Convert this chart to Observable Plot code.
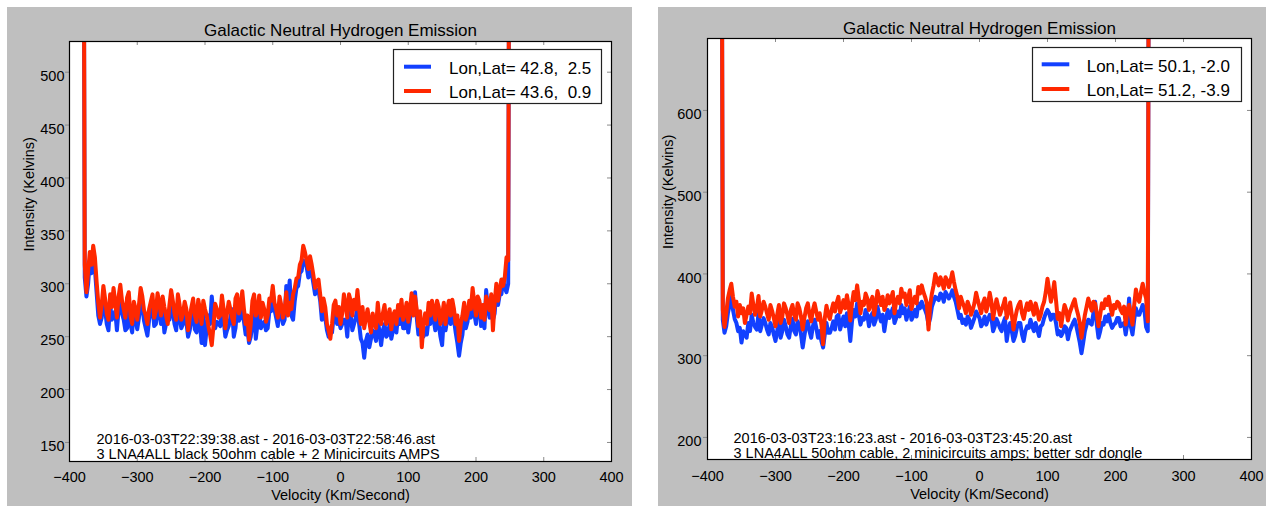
<!DOCTYPE html>
<html><head><meta charset="utf-8">
<script src="https://cdn.jsdelivr.net/npm/d3@7"></script>
<script src="https://cdn.jsdelivr.net/npm/@observablehq/plot@0.6"></script>
<style>
html,body{margin:0;padding:0;background:#fff;}
#root{position:relative;width:1266px;height:506px;overflow:hidden;font-family:"Liberation Sans",Arial,sans-serif;}
.panel{position:absolute;background:#bfbfbf;overflow:hidden;}
.panel svg{position:absolute;left:0;top:0;}
</style></head><body><div id="root"></div>
<script>
// ---------- data ----------
// spectrometer channels (km/s): main channels and the channels half-way between them
const velocity = [-380,-375,-370,-365,-360,-355,-350,-345,-340,-335,-330,-325,-320,-315,-310,-305,-300,-295,-290,-285,-280,-275,-270,-265,-260,-255,-250,-245,-240,-235,-230,-225,-220,-215,-210,-205,-200,-195,-190,-185,-180,-175,-170,-165,-160,-155,-150,-145,-140,-135,-130,-125,-120,-115,-110,-105,-100,-95,-90,-85,-80,-75,-70,-65,-60,-55,-50,-45,-40,-35,-30,-25,-20,-15,-10,-5,0,5,10,15,20,25,30,35,40,45,50,55,60,65,70,75,80,85,90,95,100,105,110,115,120,125,130,135,140,145,150,155,160,165,170,175,180,185,190,195,200,205,210,215,220,225,230,235,240,245,250];
const velocityMid = [-377.5,-372.5,-367.5,-362.5,-357.5,-352.5,-347.5,-342.5,-337.5,-332.5,-327.5,-322.5,-317.5,-312.5,-307.5,-302.5,-297.5,-292.5,-287.5,-282.5,-277.5,-272.5,-267.5,-262.5,-257.5,-252.5,-247.5,-242.5,-237.5,-232.5,-227.5,-222.5,-217.5,-212.5,-207.5,-202.5,-197.5,-192.5,-187.5,-182.5,-177.5,-172.5,-167.5,-162.5,-157.5,-152.5,-147.5,-142.5,-137.5,-132.5,-127.5,-122.5,-117.5,-112.5,-107.5,-102.5,-97.5,-92.5,-87.5,-82.5,-77.5,-72.5,-67.5,-62.5,-57.5,-52.5,-47.5,-42.5,-37.5,-32.5,-27.5,-22.5,-17.5,-12.5,-7.5,-2.5,2.5,7.5,12.5,17.5,22.5,27.5,32.5,37.5,42.5,47.5,52.5,57.5,62.5,67.5,72.5,77.5,82.5,87.5,92.5,97.5,102.5,107.5,112.5,117.5,122.5,127.5,132.5,137.5,142.5,147.5,152.5,157.5,162.5,167.5,172.5,177.5,182.5,187.5,192.5,197.5,202.5,207.5,212.5,217.5,222.5,227.5,232.5,237.5,242.5,247.5];

// left chart (Lon,Lat 42.8,2.5 = blue; 43.6,0.9 = red)
const leftRed = [900,292,330,336,302,268,298,272,290,296,268,299,276,287,270,283,266,296,275,262,283,268,291,270,278,262,294,272,290,266,283,256,278,270,285,262,276,260,242,281,268,289,258,283,268,286,272,293,262,247,284,270,289,282,264,286,298,276,288,268,292,282,290,305,318,336,322,326,308,302,290,286,262,248,280,270,262,290,268,284,285,294,262,258,276,254,262,282,262,280,268,257,274,280,285,272,264,291,288,260,240,272,282,284,266,278,270,262,284,285,262,246,270,266,284,296,270,284,280,288,275,256,300,294,298,325,900];
const leftRedMid = [318,312,318,325,282,280,286,266,278,282,288,284,268,292,262,276,280,288,270,276,290,274,282,288,270,280,284,266,280,272,276,268,286,264,276,284,270,252,260,276,270,276,272,276,262,290,278,276,270,262,290,274,268,276,270,284,282,268,280,274,270,276,296,306,322,330,314,318,296,304,274,278,256,262,284,278,272,280,290,270,276,276,278,268,264,272,258,266,272,262,276,270,262,270,266,282,276,270,276,274,262,262,270,276,284,262,282,276,270,276,270,262,282,272,276,282,288,268,266,280,290,282,284,304,306,322];
const leftBlue = [900,288,322,328,292,262,290,262,281,270,256,288,266,258,262,276,257,284,265,251,274,260,282,262,254,270,278,262,280,258,274,250,268,257,276,244,242,270,288,258,262,275,250,260,276,258,265,282,252,244,262,248,276,262,256,274,292,268,282,262,298,303,266,296,310,322,316,312,300,294,284,278,256,258,270,262,258,266,250,270,262,278,248,230,252,248,252,268,242,262,252,248,262,270,276,258,254,282,292,252,262,258,266,276,256,262,242,256,274,276,254,232,252,258,278,286,262,282,272,294,268,266,292,290,304,292,900];
const leftBlueMid = [306,300,310,314,270,268,276,256,266,274,276,272,256,280,254,266,268,278,258,266,280,262,272,276,262,266,274,256,268,262,264,256,274,254,262,272,258,262,270,264,260,266,256,268,250,276,268,264,258,250,276,262,258,264,258,274,276,260,270,266,284,270,284,298,312,320,306,310,290,294,266,268,250,254,274,266,262,266,276,256,268,262,244,246,240,256,246,254,256,250,262,256,254,262,258,270,266,276,268,258,250,252,262,266,270,250,268,266,262,266,244,244,270,264,268,272,278,260,258,276,280,272,280,290,296,300];

// right chart (Lon,Lat 50.1,-2.0 = blue; 51.2,-3.9 = red)
const rightRed = [1200,335,370,388,360,348,352,340,360,376,350,373,356,360,344,355,336,362,348,358,340,362,344,358,332,358,350,356,354,352,314,361,345,364,365,353,368,374,343,378,386,352,362,370,366,350,379,362,356,374,370,352,372,382,376,370,357,372,384,386,372,332,376,400,386,390,396,384,402,380,358,365,352,360,356,377,360,364,354,377,345,369,350,362,346,365,332,356,366,345,364,366,350,356,350,366,394,366,390,345,336,362,343,358,369,350,322,350,370,355,364,336,364,369,372,350,358,364,352,338,362,338,381,366,388,370,1200];
const rightRedMid = [356,352,380,372,366,362,358,350,352,362,358,348,366,352,362,346,350,340,364,350,356,350,364,348,346,364,342,364,344,338,346,350,356,354,372,360,358,362,364,368,370,366,376,356,372,362,370,372,362,364,378,366,364,372,362,380,366,364,376,378,364,362,386,392,396,382,392,392,390,372,372,360,366,350,364,368,352,370,362,366,358,360,356,370,354,350,346,362,352,356,356,358,364,344,360,378,380,376,368,352,350,356,352,364,358,340,336,360,362,366,352,350,358,362,360,362,366,356,360,356,350,362,370,378,378,342];
const rightBlue = [1200,328,352,372,345,330,316,326,340,350,335,352,338,340,326,335,318,342,330,336,322,345,326,338,310,338,330,336,334,330,310,340,328,342,348,332,348,352,318,356,364,338,344,350,348,338,360,342,330,356,352,340,354,362,358,352,344,356,364,366,356,338,360,372,368,374,378,370,380,366,346,340,338,344,340,354,346,340,338,350,330,345,334,340,318,340,318,334,340,318,336,344,330,332,336,346,356,344,350,326,324,336,320,335,344,326,303,330,344,338,366,322,340,348,350,334,340,346,338,326,370,326,358,350,362,335,1200];
const rightBlueMid = [344,336,362,356,340,334,330,322,330,340,332,330,346,332,340,326,330,322,344,326,336,330,342,326,324,342,322,344,322,318,326,328,334,332,350,340,336,340,342,348,350,346,356,336,352,344,350,350,344,346,358,346,348,352,344,360,348,348,358,360,350,346,366,370,376,366,374,374,372,356,350,344,348,334,346,350,336,348,344,346,336,340,330,346,332,330,324,340,326,330,334,336,340,324,338,352,352,350,340,330,328,334,330,340,336,316,316,338,340,352,338,330,338,342,340,338,346,336,340,340,336,344,350,356,356,330];

const xTicks = [-400,-300,-200,-100,0,100,200,300,400];
const leftYTicks = [150,200,250,300,350,400,450,500];
const rightYTicks = [200,300,400,500,600];

const titleText = "Galactic Neutral Hydrogen Emission";
const xLabelText = "Velocity (Km/Second)";
const yLabelText = "Intensity (Kelvins)";
const leftNotes = ["2016-03-03T22:39:38.ast - 2016-03-03T22:58:46.ast", "3 LNA4ALL black 50ohm cable + 2 Minicircuits AMPS"];
const rightNotes = ["2016-03-03T23:16:23.ast - 2016-03-03T23:45:20.ast", "3 LNA4ALL 50ohm cable, 2 minicircuits amps; better sdr dongle"];
const leftLegend = ["Lon,Lat= 42.8,  2.5", "Lon,Lat= 43.6,  0.9"];
const rightLegend = ["Lon,Lat= 50.1, -2.0", "Lon,Lat= 51.2, -3.9"];
const seriesColors = ["#1240ff", "#ff2800"];

// ---------- drawing ----------
const FONT = '"Liberation Sans", Arial, sans-serif';
const root = document.getElementById("root");

function series(main, mid) {
  return velocity.map((v, i) => ({v, T: main[i]}))
    .concat(velocityMid.map((v, i) => ({v, T: mid[i]})))
    .sort((a, b) => a.v - b.v);
}

function drawPanel(cfg) {
  const div = document.createElement("div");
  div.className = "panel";
  Object.assign(div.style, {left: cfg.left + "px", top: cfg.top + "px", width: cfg.width + "px", height: cfg.height + "px"});
  root.appendChild(div);

  const blueRows = series(cfg.blue, cfg.blueMid);
  const redRows = series(cfg.red, cfg.redMid);
  const W = cfg.width - cfg.m[1] - cfg.m[3];
  const H = cfg.height - cfg.m[0] - cfg.m[2];
  const tickColor = "#8a8a8a";

  const svg = Plot.plot({
    width: cfg.width, height: cfg.height,
    marginTop: cfg.m[0], marginRight: cfg.m[1], marginBottom: cfg.m[2], marginLeft: cfg.m[3],
    style: {background: "transparent", fontFamily: FONT, color: "black", overflow: "visible"},
    x: {domain: [-400, 400]},
    y: {domain: cfg.yDomain},
    marks: [
      Plot.frame({fill: "white", stroke: null}),
      Plot.line(blueRows, {x: "v", y: "T", stroke: seriesColors[0], strokeWidth: 4, strokeLinejoin: "round", clip: true}),
      Plot.line(redRows, {x: "v", y: "T", stroke: seriesColors[1], strokeWidth: 4, strokeLinejoin: "round", clip: true}),
      Plot.ruleX(xTicks, {x: d => d, insetTop: H - 4, stroke: tickColor}),
      Plot.ruleX(xTicks, {x: d => d, insetBottom: H - 4, stroke: tickColor}),
      Plot.ruleY(cfg.yTicks, {y: d => d, insetLeft: W - 4, stroke: tickColor}),
      Plot.ruleY(cfg.yTicks, {y: d => d, insetRight: W - 4, dx: -4, stroke: tickColor}),
      Plot.axisX(xTicks, {tickSize: 0, tickPadding: cfg.xPad, fontSize: 14.5, label: null}),
      Plot.axisY(cfg.yTicks, {tickSize: 0, tickPadding: cfg.yPad, dy: 4, fontSize: 14.5, label: null}),
      Plot.frame({stroke: "black", strokeWidth: 1.2}),
      Plot.text([titleText], {frameAnchor: "top", lineAnchor: "bottom", dy: cfg.titleDy, fontSize: 17}),
      Plot.text([xLabelText], {frameAnchor: "bottom", lineAnchor: "bottom", dy: cfg.xLabelDy, fontSize: 14.5}),
      Plot.text([yLabelText], {frameAnchor: "left", rotate: -90, lineAnchor: "bottom", dx: cfg.yLabelDx, fontSize: 14.5}),
      Plot.text([cfg.notes.join("\n")], {frameAnchor: "bottom-left", textAnchor: "start", lineAnchor: "bottom", dx: cfg.noteDx, dy: cfg.noteDy, lineHeight: 0.97, fontSize: 14.5})
    ]
  });
  div.appendChild(svg);

  // legend box
  const lg = cfg.legend;
  const leg = d3.create("svg")
    .attr("width", lg.w).attr("height", lg.h)
    .style("position", "absolute")
    .style("left", (lg.x - cfg.left) + "px").style("top", (lg.y - cfg.top) + "px")
    .style("overflow", "visible");
  leg.append("rect").attr("x", 0.5).attr("y", 0.5).attr("width", lg.w - 1).attr("height", lg.h - 1)
    .attr("fill", "white").attr("stroke", "#222").attr("stroke-width", 1.2);
  cfg.legendLabels.forEach((label, i) => {
    const yy = lg.rowY[i];
    leg.append("line").attr("x1", lg.sx).attr("x2", lg.sx + lg.sw).attr("y1", yy).attr("y2", yy)
      .attr("stroke", seriesColors[i]).attr("stroke-width", 4);
    leg.append("text").attr("x", lg.tx).attr("y", yy + 7.3)
      .attr("font-family", FONT).attr("font-size", 17).attr("fill", "black")
      .style("white-space", "pre").attr("xml:space", "preserve").text(label);
  });
  div.appendChild(leg.node());
}

drawPanel({
  left: 7, top: 7, width: 625, height: 499,
  m: [34, 21, 45, 62],
  yDomain: [132, 529], yTicks: leftYTicks,
  blue: leftBlue, blueMid: leftBlueMid, red: leftRed, redMid: leftRedMid,
  xPad: 10, yPad: 5, titleDy: -6, xLabelDy: 38.5, yLabelDx: -35.3,
  notes: leftNotes, noteDx: 27, noteDy: -3,
  legendLabels: leftLegend,
  legend: {x: 393, y: 49, w: 209, h: 55, sx: 11, sw: 27, tx: 56, rowY: [17.7, 42]}
});

drawPanel({
  left: 658, top: 7, width: 608, height: 499,
  m: [31, 15, 47, 49],
  yDomain: [173, 688], yTicks: rightYTicks,
  blue: rightBlue, blueMid: rightBlueMid, red: rightRed, redMid: rightRedMid,
  xPad: 11, yPad: 6, titleDy: -4.7, xLabelDy: 39.7, yLabelDx: -35,
  notes: rightNotes, noteDx: 26, noteDy: -2,
  legendLabels: rightLegend,
  legend: {x: 1032, y: 47, w: 210, h: 55, sx: 9.7, sw: 27.6, tx: 54.7, rowY: [17.3, 42]}
});
</script>
</body></html>
